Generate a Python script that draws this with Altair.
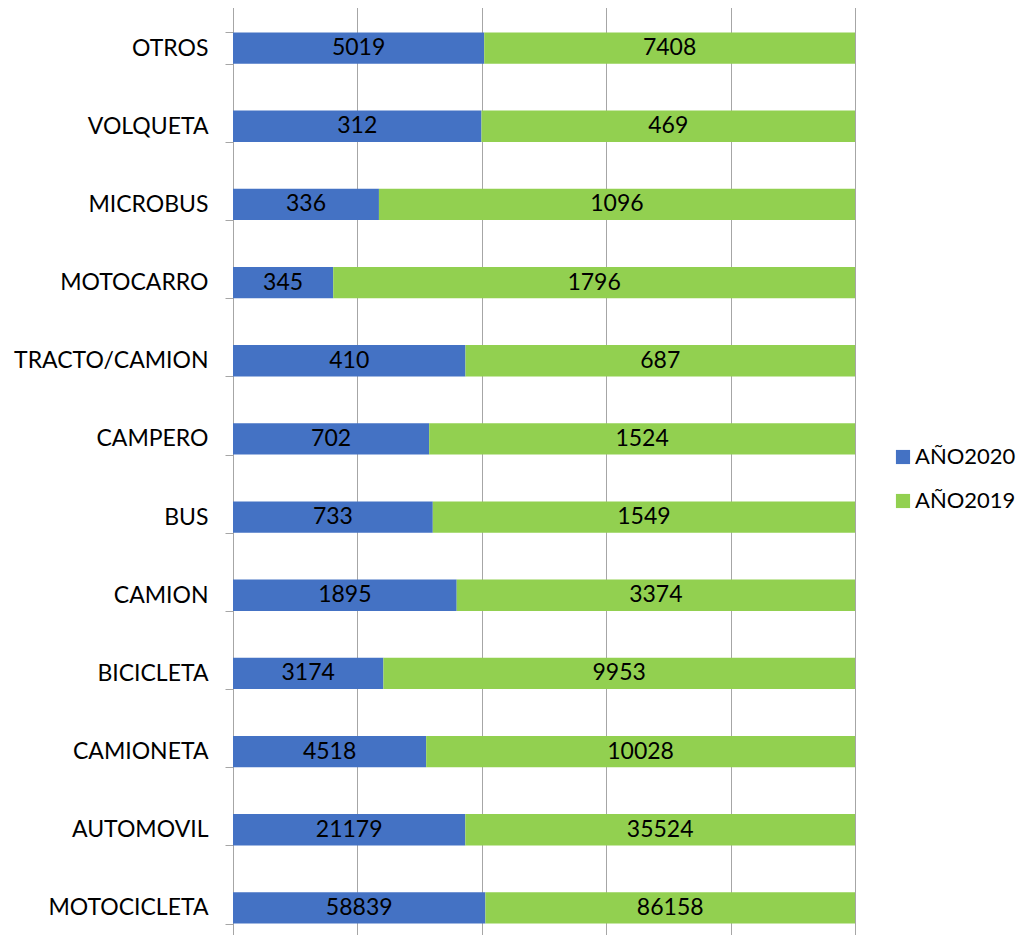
import altair as alt
import pandas as pd

categories = ["OTROS", "VOLQUETA", "MICROBUS", "MOTOCARRO", "TRACTO/CAMION", "CAMPERO",
              "BUS", "CAMION", "BICICLETA", "CAMIONETA", "AUTOMOVIL", "MOTOCICLETA"]
y2020 = [5019, 312, 336, 345, 410, 702, 733, 1895, 3174, 4518, 21179, 58839]
y2019 = [7408, 469, 1096, 1796, 687, 1524, 1549, 3374, 9953, 10028, 35524, 86158]
series = ["AÑO2020", "AÑO2019"]
colors = ["#4472C4", "#92D050"]

rows = []
for c, a, b in zip(categories, y2020, y2019):
    rows.append({"cat": c, "serie": series[0], "value": a, "ord": 0})
    rows.append({"cat": c, "serie": series[1], "value": b, "ord": 1})
df = pd.DataFrame(rows)

FONT = "Lato"
FS = 23

base = alt.Chart(df).transform_joinaggregate(
    total="sum(value)", groupby=["cat"]
).transform_calculate(
    pct="datum.value / datum.total"
).transform_window(
    cum="sum(pct)", groupby=["cat"], sort=[alt.SortField("ord")],
    frame=[None, 0]
).transform_calculate(
    start="datum.cum - datum.pct", mid="datum.cum - datum.pct / 2"
)

yenc = alt.Y("cat:N", sort=categories, title=None,
             scale=alt.Scale(paddingInner=0.6, paddingOuter=0.3, range=[0, 938]),
             axis=alt.Axis(tickBand="extent", labelFontSize=FS, labelFont=FONT,
                           labelColor="#000000", domainColor="#A6A6A6",
                           tickColor="#A6A6A6", tickSize=8, labelPadding=17,
                           labelLimit=400, grid=False))

bars = base.mark_bar().encode(
    x=alt.X("start:Q", scale=alt.Scale(domain=[0, 1]), title=None,
            axis=alt.Axis(values=[0, 0.2, 0.4, 0.6, 0.8, 1.0], labels=False,
                          ticks=False, domain=False, grid=True,
                          gridColor="#A6A6A6", gridWidth=1)),
    x2="cum:Q",
    y=yenc,
    color=alt.Color("serie:N", scale=alt.Scale(domain=series, range=colors),
                    sort=series, title=None,
                    legend=alt.Legend(orient="none", legendX=659, legendY=437,
                                      padding=0,
                                      symbolType="square", symbolSize=200,
                                      symbolStrokeWidth=0, labelFontSize=22,
                                      labelFont=FONT, labelColor="#000000",
                                      labelLimit=400,
                                      rowPadding=22, labelOffset=1)),
    order=alt.Order("ord:Q"),
)

texts = base.mark_text(fontSize=FS, font=FONT, color="#000000").encode(
    x="mid:Q",
    y=alt.Y("cat:N", sort=categories),
    text="value:Q",
)

chart = (bars + texts).properties(
    width=622, height=926,
    autosize=alt.AutoSizeParams(type="none"),
    padding={"left": 225, "top": 1, "right": 165, "bottom": 0},
).configure_view(stroke=None)

chart.save("out.html", embed_options={"renderer": "svg", "actions": False})
